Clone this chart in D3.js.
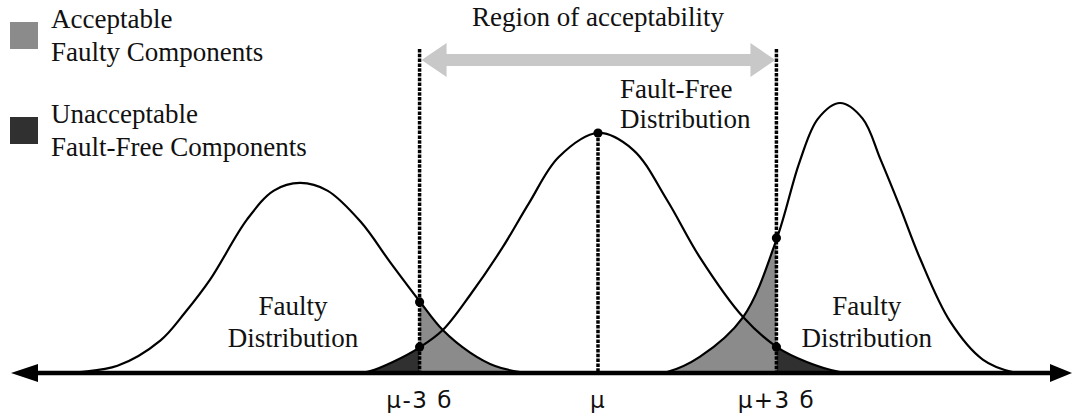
<!DOCTYPE html>
<html>
<head>
<meta charset="utf-8">
<script src="https://cdnjs.cloudflare.com/ajax/libs/d3/7.8.5/d3.min.js"></script>
<style>
    body { margin: 0; background: #fff; }
    svg text { font-family: "Liberation Serif", "Times New Roman", serif; fill: #111; }
</style>
</head>
<body>
<div id="chart"></div>
<script>
// x in sigma units measured from mu, y = relative density (fault-free peak = 1)
const lowFaulty = [[-8.87, 0], [-8.71, 0.004], [-8.08, 0.03], [-7.36, 0.135], [-6.95, 0.25], [-6.52, 0.39], [-5.90, 0.64],
    [-5.45, 0.76], [-5.01, 0.792], [-4.55, 0.76], [-3.99, 0.63], [-3.49, 0.46], [-2.99, 0.296],
    [-2.61, 0.179], [-2.15, 0.085], [-1.73, 0.029], [-1.31, 0.004], [-1.06, 0]];
const faultFree = [[-4.08, 0], [-3.83, 0.008], [-3.45, 0.046], [-2.99, 0.108], [-2.61, 0.179], [-2.15, 0.325],
    [-1.61, 0.521], [-1.16, 0.708], [-0.66, 0.9], [0, 1], [0.59, 0.93], [1.16, 0.721],
    [1.71, 0.483], [2.44, 0.233], [3.01, 0.108], [3.51, 0.046], [4.07, 0.004], [4.32, 0]];
const highFaulty = [[0.96, 0], [1.16, 0.004], [1.71, 0.067], [2.44, 0.233], [3.01, 0.5625], [3.39, 0.88],
    [3.70, 1.06], [4.07, 1.125], [4.45, 1.06], [4.75, 0.89], [5.08, 0.69], [5.41, 0.48],
    [5.92, 0.215], [6.47, 0.056], [6.97, 0.004], [7.18, 0]];

const limitValues = [-3, 0, 3];
const limitLabels = ["μ-3 б", "μ", "μ+3 б"];
const markerPoints = [[-3, 0.296], [-3, 0.108], [0, 1], [3, 0.5625], [3, 0.108]];

const distLabels = [["Faulty", "Distribution"], ["Fault-Free", "Distribution"], ["Faulty", "Distribution"]];
const legendLabels = [["Acceptable", "Faulty Components"], ["Unacceptable", "Fault-Free Components"]];
const regionLabel = "Region of acceptability";

class DistributionVis {
    constructor(_parentElement) {
        this.parentElement = _parentElement;
        this.initVis();
    }

    initVis() {
        let vis = this;

        vis.width = 1073;
        vis.height = 417;
        vis.baseY = 373;

        vis.svg = d3.select("#" + vis.parentElement).append("svg")
            .attr("width", vis.width)
            .attr("height", vis.height);

        vis.x = d3.scaleLinear().domain([-9.87, 7.97]).range([11, 1072]);
        vis.y = d3.scaleLinear().domain([0, 1]).range([vis.baseY, 133]);

        vis.line = d3.line()
            .x(d => vis.x(d[0]))
            .y(d => vis.y(d[1]))
            .curve(d3.curveCatmullRom.alpha(0.5));

        vis.area = d3.area()
            .x(d => vis.x(d[0]))
            .y0(vis.y(0))
            .y1(d => vis.y(d[1]))
            .curve(d3.curveCatmullRom.alpha(0.5));

        vis.grey = "#8b8b8b";
        vis.dark = "#303030";

        // clip regions inside / outside the acceptance limits
        let defs = vis.svg.append("defs");
        defs.append("clipPath").attr("id", "inside")
            .append("rect")
            .attr("x", vis.x(-3)).attr("y", 0)
            .attr("width", vis.x(3) - vis.x(-3)).attr("height", vis.height);
        let outside = defs.append("clipPath").attr("id", "outside");
        outside.append("rect")
            .attr("x", 0).attr("y", 0)
            .attr("width", vis.x(-3)).attr("height", vis.height);
        outside.append("rect")
            .attr("x", vis.x(3)).attr("y", 0)
            .attr("width", vis.width - vis.x(3)).attr("height", vis.height);

        vis.updateVis();
    }

    updateVis() {
        let vis = this;

        // shaded tails
        [lowFaulty, highFaulty].forEach(curve => {
            vis.svg.append("path")
                .datum(curve)
                .attr("d", vis.area)
                .attr("clip-path", "url(#inside)")
                .style("fill", vis.grey);
        });
        vis.svg.append("path")
            .datum(faultFree)
            .attr("d", vis.area)
            .attr("clip-path", "url(#outside)")
            .style("fill", vis.dark);

        // dashed limit lines
        limitValues.forEach(v => {
            vis.svg.append("line")
                .attr("x1", vis.x(v)).attr("x2", vis.x(v))
                .attr("y1", v === 0 ? vis.y(1) : 49)
                .attr("y2", vis.baseY)
                .style("stroke", "#000")
                .style("stroke-width", 3.5)
                .style("stroke-dasharray", "3.5,1.3");
        });

        // curves
        [lowFaulty, faultFree, highFaulty].forEach(curve => {
            vis.svg.append("path")
                .datum(curve)
                .attr("d", vis.line)
                .style("fill", "none")
                .style("stroke", "#000")
                .style("stroke-width", 2.2);
        });

        // horizontal axis with arrows at both ends
        let [x0, x1] = vis.x.range();
        vis.svg.append("line")
            .attr("x1", x0 + 20).attr("x2", x1 - 15)
            .attr("y1", vis.baseY).attr("y2", vis.baseY)
            .style("stroke", "#000")
            .style("stroke-width", 4.5);
        vis.svg.append("path")
            .attr("d", `M${x0},${vis.baseY} L${x0 + 27},${vis.baseY - 9} L${x0 + 27},${vis.baseY + 9} Z`)
            .style("fill", "#000");
        vis.svg.append("path")
            .attr("d", `M${x1},${vis.baseY} L${x1 - 22},${vis.baseY - 9} L${x1 - 22},${vis.baseY + 9} Z`)
            .style("fill", "#000");

        // marker dots
        vis.svg.selectAll(".marker")
            .data(markerPoints)
            .enter().append("circle")
            .attr("class", "marker")
            .attr("cx", d => vis.x(d[0]))
            .attr("cy", d => vis.y(d[1]))
            .attr("r", 4.6)
            .style("fill", "#000");

        // region of acceptability arrow
        let ax0 = vis.x(-3) + 2, ax1 = vis.x(3) - 1, ay = 60;
        vis.svg.append("line")
            .attr("x1", ax0 + 20).attr("x2", ax1 - 20)
            .attr("y1", ay).attr("y2", ay)
            .style("stroke", "#c8c8c8")
            .style("stroke-width", 12);
        vis.svg.append("path")
            .attr("d", `M${ax0},${ay} L${ax0 + 25},${ay - 17} L${ax0 + 25},${ay + 17} Z`)
            .style("fill", "#c8c8c8");
        vis.svg.append("path")
            .attr("d", `M${ax1},${ay} L${ax1 - 25},${ay - 17} L${ax1 - 25},${ay + 17} Z`)
            .style("fill", "#c8c8c8");

        vis.svg.append("text")
            .attr("x", vis.x(0))
            .attr("y", 26)
            .attr("text-anchor", "middle")
            .style("font-size", "27px")
            .text(regionLabel);

        // distribution labels
        let labelPos = [
            {x: vis.x(-5.13), y: 315, anchor: "middle"},
            {x: vis.x(0.37), y: 98, anchor: "start"},
            {x: vis.x(4.52), y: 315, anchor: "middle"}
        ];
        distLabels.forEach((lines, i) => {
            let p = labelPos[i];
            lines.forEach((t, j) => {
                vis.svg.append("text")
                    .attr("x", p.x)
                    .attr("y", p.y + j * (i === 1 ? 30 : 32))
                    .attr("text-anchor", p.anchor)
                    .style("font-size", "27px")
                    .text(t);
            });
        });

        // limit labels under the axis
        limitValues.forEach((v, i) => {
            vis.svg.append("text")
                .attr("x", vis.x(v))
                .attr("y", 408)
                .attr("text-anchor", "middle")
                .style("font-family", "'DejaVu Sans', sans-serif")
                .style("font-size", "23px")
                .style("letter-spacing", "1.5px")
                .text(limitLabels[i]);
        });

        // legend
        let legendColors = [vis.grey, vis.dark];
        legendLabels.forEach((lines, i) => {
            let top = 22 + i * 95;
            vis.svg.append("rect")
                .attr("x", 10).attr("y", top)
                .attr("width", 28).attr("height", 27)
                .style("fill", legendColors[i]);
            lines.forEach((t, j) => {
                vis.svg.append("text")
                    .attr("x", 51)
                    .attr("y", top + 6 + j * 33)
                    .style("font-size", "27px")
                    .text(t);
            });
        });
    }
}

new DistributionVis("chart");
</script>
</body>
</html>
